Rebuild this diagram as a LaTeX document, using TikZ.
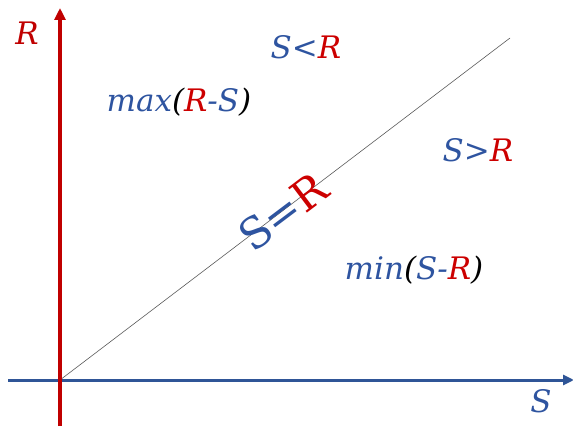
\documentclass[tikz,border=0pt]{standalone}
\usepackage{fontspec}
\setmainfont{DejaVu Serif}
\newfontfamily\serf{DejaVu Serif}
\usetikzlibrary{arrows.meta}
\definecolor{axred}{RGB}{192,0,0}
\definecolor{axblue}{RGB}{47,85,151}
\definecolor{txblue}{RGB}{46,84,160}
\definecolor{txred}{RGB}{204,0,0}
\tikzset{
  lbl/.style={inner sep=0pt, font=\serf\fontsize{31}{35}\selectfont\itshape},
  big/.style={inner sep=0pt, font=\serf\fontsize{43}{47}\selectfont},
}
\newcommand{\bS}{\textcolor{txblue}{S}}
\newcommand{\rR}{\textcolor{txred}{R}}
\begin{document}
\begin{tikzpicture}[x=1pt,y=-1pt]
\useasboundingbox (0,0) rectangle (573,430);
\coordinate (o) at (60,380);
\coordinate (rtop) at (60,8);
\coordinate (rbot) at (60,426);
\coordinate (sleft) at (8,380);
\coordinate (sright) at (574,380);
\coordinate (dend) at (510,38);
\draw[gray!70!black, line width=0.6pt] (o) -- (dend);
\draw[axblue, line width=3pt, -{Triangle[length=11pt,width=10pt]}] (sleft) -- (sright);
\draw[axred, line width=3.5pt, -{Triangle[length=12pt,width=11pt]}] (rbot) -- (rtop);
\node[lbl, text=axred] (rl) at (27,33) {R};
\node[lbl, text=txblue] (sl) at (541,401) {S};
\node[lbl] (slr) at (306,47) {\bS\textcolor{txblue}{<}\rR};
\node[lbl] (sgr) at (478,150) {\bS\textcolor{txblue}{>}\rR};
\node[lbl] (mx) at (179,102) {\textcolor{txblue}{max}(\rR\textcolor{txblue}{-}\bS)};
\node[lbl] (mn) at (414,270) {\textcolor{txblue}{min}(\bS\textcolor{txblue}{-}\rR)};
\node[big, rotate=37] (eq) at (283,212) {\textcolor{txblue}{S=}\textcolor{txred}{R}};
\end{tikzpicture}
\end{document}
